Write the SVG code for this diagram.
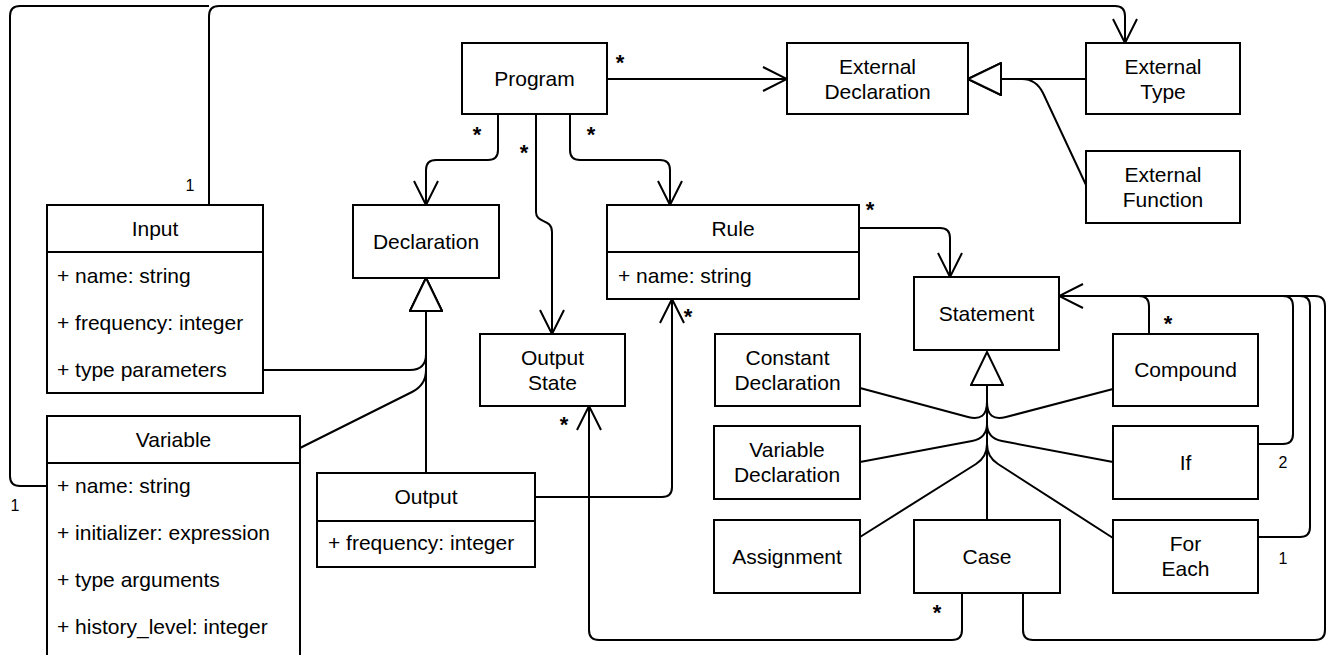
<svg xmlns="http://www.w3.org/2000/svg" width="1328" height="655" viewBox="0 0 1328 655">
<style>
.box{fill:#fff;stroke:#000;stroke-width:2}
.ln{fill:none;stroke:#000;stroke-width:2}
text{font-family:"Liberation Sans",Arial,Helvetica,sans-serif;font-size:21px;fill:#000}
.c{text-anchor:middle}
.m{font-size:22px;font-weight:bold}
.n{font-size:16px}
</style>
<defs>
<marker id="open" viewBox="0 0 26 26" refX="25" refY="13" markerWidth="26" markerHeight="26" markerUnits="userSpaceOnUse" orient="auto">
<path d="M1,1 L25,13 L1,25" fill="none" stroke="#000" stroke-width="2"/>
</marker>
<marker id="gen" viewBox="0 0 36 34" refX="35" refY="17" markerWidth="36" markerHeight="34" markerUnits="userSpaceOnUse" orient="auto">
<path d="M2,1 L35,17 L2,33 Z" fill="#fff" stroke="#000" stroke-width="2"/>
</marker>
</defs>
<rect width="1328" height="655" fill="#fff"/>
<g id="connectors">
<path class="ln" d="M47,486 H20 Q10,486 10,476 V16 Q10,6 20,6 H209"/>
<path class="ln" d="M209,205 V16 Q209,6 219,6 H1115 Q1125,6 1125,16 V43" marker-end="url(#open)"/>
<path class="ln" d="M607,79 H787" marker-end="url(#open)"/>
<path class="ln" d="M498,114 V150 Q498,160 488,160 H436 Q426,160 426,170 V205" marker-end="url(#open)"/>
<path class="ln" d="M570,114 V150 Q570,160 580,160 H660 Q670,160 670,170 V205" marker-end="url(#open)"/>
<path class="ln" d="M536,114 V212 C536,224 552,218 552,232 V334" marker-end="url(#open)"/>
<path class="ln" d="M1086,79 H968" marker-end="url(#gen)"/>
<path class="ln" d="M1086,185 L1043,93 Q1036,79 1022,79 H968" marker-end="url(#gen)"/>
<path class="ln" d="M263,370 H410 Q426,370 426,354 V278" marker-end="url(#gen)"/>
<path class="ln" d="M300,448 L412,392 Q426,385 426,370 V278" marker-end="url(#gen)"/>
<path class="ln" d="M426,473 V278" marker-end="url(#gen)"/>
<path class="ln" d="M859,228 H940 Q950,228 950,238 V277" marker-end="url(#open)"/>
<path class="ln" d="M535,497 H662 Q672,497 672,487 V299" marker-end="url(#open)"/>
<path class="ln" d="M962,593 V630 Q962,640 952,640 H599 Q589,640 589,630 V406" marker-end="url(#open)"/>
<path class="ln" d="M1149,334 V306 Q1149,296 1139,296 H1059" marker-end="url(#open)"/>
<path class="ln" d="M1258,444 H1283 Q1293,444 1293,434 V306 Q1293,296 1283,296 H1059"/>
<path class="ln" d="M1258,537 H1300 Q1310,537 1310,527 V306 Q1310,296 1300,296 H1059"/>
<path class="ln" d="M1023,593 V630 Q1023,640 1033,640 H1315 Q1325,640 1325,630 V306 Q1325,296 1315,296 H1059"/>
<path class="ln" d="M987,520 V352" marker-end="url(#gen)"/>
<path class="ln" d="M860,388 L968,417 Q987,422 987,402"/>
<path class="ln" d="M1113,389 L1006,417 Q987,422 987,402"/>
<path class="ln" d="M860,462 L972,441 Q987,438 987,424"/>
<path class="ln" d="M1113,462 L1002,441 Q987,438 987,424"/>
<path class="ln" d="M860,537 L976,464 Q987,457 987,444"/>
<path class="ln" d="M1113,538 L998,464 Q987,457 987,444"/>
<text x="190" y="191" class="n c">1</text>
<text x="15" y="511" class="n c">1</text>
<text x="1283" y="468" class="n c">2</text>
<text x="1283" y="564" class="n c">1</text>
<text x="477" y="142" class="m c">*</text>
<text x="524" y="160" class="m c">*</text>
<text x="591" y="142" class="m c">*</text>
<text x="620" y="70" class="m c">*</text>
<text x="870" y="217" class="m c">*</text>
<text x="688" y="324" class="m c">*</text>
<text x="564" y="432" class="m c">*</text>
<text x="1168" y="331" class="m c">*</text>
<text x="937" y="620" class="m c">*</text>
</g>
<g id="program"><rect class="box" x="462" y="43" width="145" height="71"/><text x="534.5" y="86" class="c">Program</text></g>
<g id="external-declaration"><rect class="box" x="787" y="43" width="181" height="71"/><text x="877.5" y="73.5" class="c">External</text><text x="877.5" y="98.5" class="c">Declaration</text></g>
<g id="external-type"><rect class="box" x="1086" y="43" width="154" height="71"/><text x="1163" y="73.5" class="c">External</text><text x="1163" y="98.5" class="c">Type</text></g>
<g id="external-function"><rect class="box" x="1086" y="151" width="154" height="72"/><text x="1163" y="182" class="c">External</text><text x="1163" y="207" class="c">Function</text></g>
<g id="input"><rect class="box" x="47" y="205" width="216" height="188"/><line class="ln" x1="47" y1="252" x2="263" y2="252"/><text x="155" y="236" class="c">Input</text><text x="57" y="283">+ name: string</text><text x="57" y="330">+ frequency: integer</text><text x="57" y="377">+ type parameters</text></g>
<g id="declaration"><rect class="box" x="353" y="205" width="146" height="73"/><text x="426" y="249" class="c">Declaration</text></g>
<g id="rule"><rect class="box" x="607" y="205" width="252" height="94"/><line class="ln" x1="607" y1="252" x2="859" y2="252"/><text x="733" y="236" class="c">Rule</text><text x="618" y="283">+ name: string</text></g>
<g id="output-state"><rect class="box" x="480" y="334" width="145" height="72"/><text x="552.5" y="365" class="c">Output</text><text x="552.5" y="390" class="c">State</text></g>
<g id="variable"><rect class="box" x="47" y="416" width="253" height="260"/><line class="ln" x1="47" y1="463" x2="300" y2="463"/><text x="173.5" y="447" class="c">Variable</text><text x="57" y="493">+ name: string</text><text x="57" y="540">+ initializer: expression</text><text x="57" y="587">+ type arguments</text><text x="57" y="634">+ history_level: integer</text></g>
<g id="output"><rect class="box" x="317" y="473" width="218" height="94"/><line class="ln" x1="317" y1="521" x2="535" y2="521"/><text x="426" y="504" class="c">Output</text><text x="328" y="550">+ frequency: integer</text></g>
<g id="statement"><rect class="box" x="914" y="277" width="145" height="73"/><text x="986.5" y="321" class="c">Statement</text></g>
<g id="constant-declaration"><rect class="box" x="715" y="334" width="145" height="72"/><text x="787.5" y="365" class="c">Constant</text><text x="787.5" y="390" class="c">Declaration</text></g>
<g id="compound"><rect class="box" x="1113" y="334" width="145" height="72"/><text x="1185.5" y="377" class="c">Compound</text></g>
<g id="variable-declaration"><rect class="box" x="714" y="426" width="146" height="73"/><text x="787" y="457" class="c">Variable</text><text x="787" y="482" class="c">Declaration</text></g>
<g id="if"><rect class="box" x="1113" y="426" width="145" height="73"/><text x="1185.5" y="470" class="c">If</text></g>
<g id="assignment"><rect class="box" x="714" y="520" width="146" height="73"/><text x="787" y="564" class="c">Assignment</text></g>
<g id="case"><rect class="box" x="914" y="520" width="146" height="73"/><text x="987" y="564" class="c">Case</text></g>
<g id="for-each"><rect class="box" x="1113" y="520" width="145" height="73"/><text x="1185.5" y="551" class="c">For</text><text x="1185.5" y="576" class="c">Each</text></g>
</svg>
